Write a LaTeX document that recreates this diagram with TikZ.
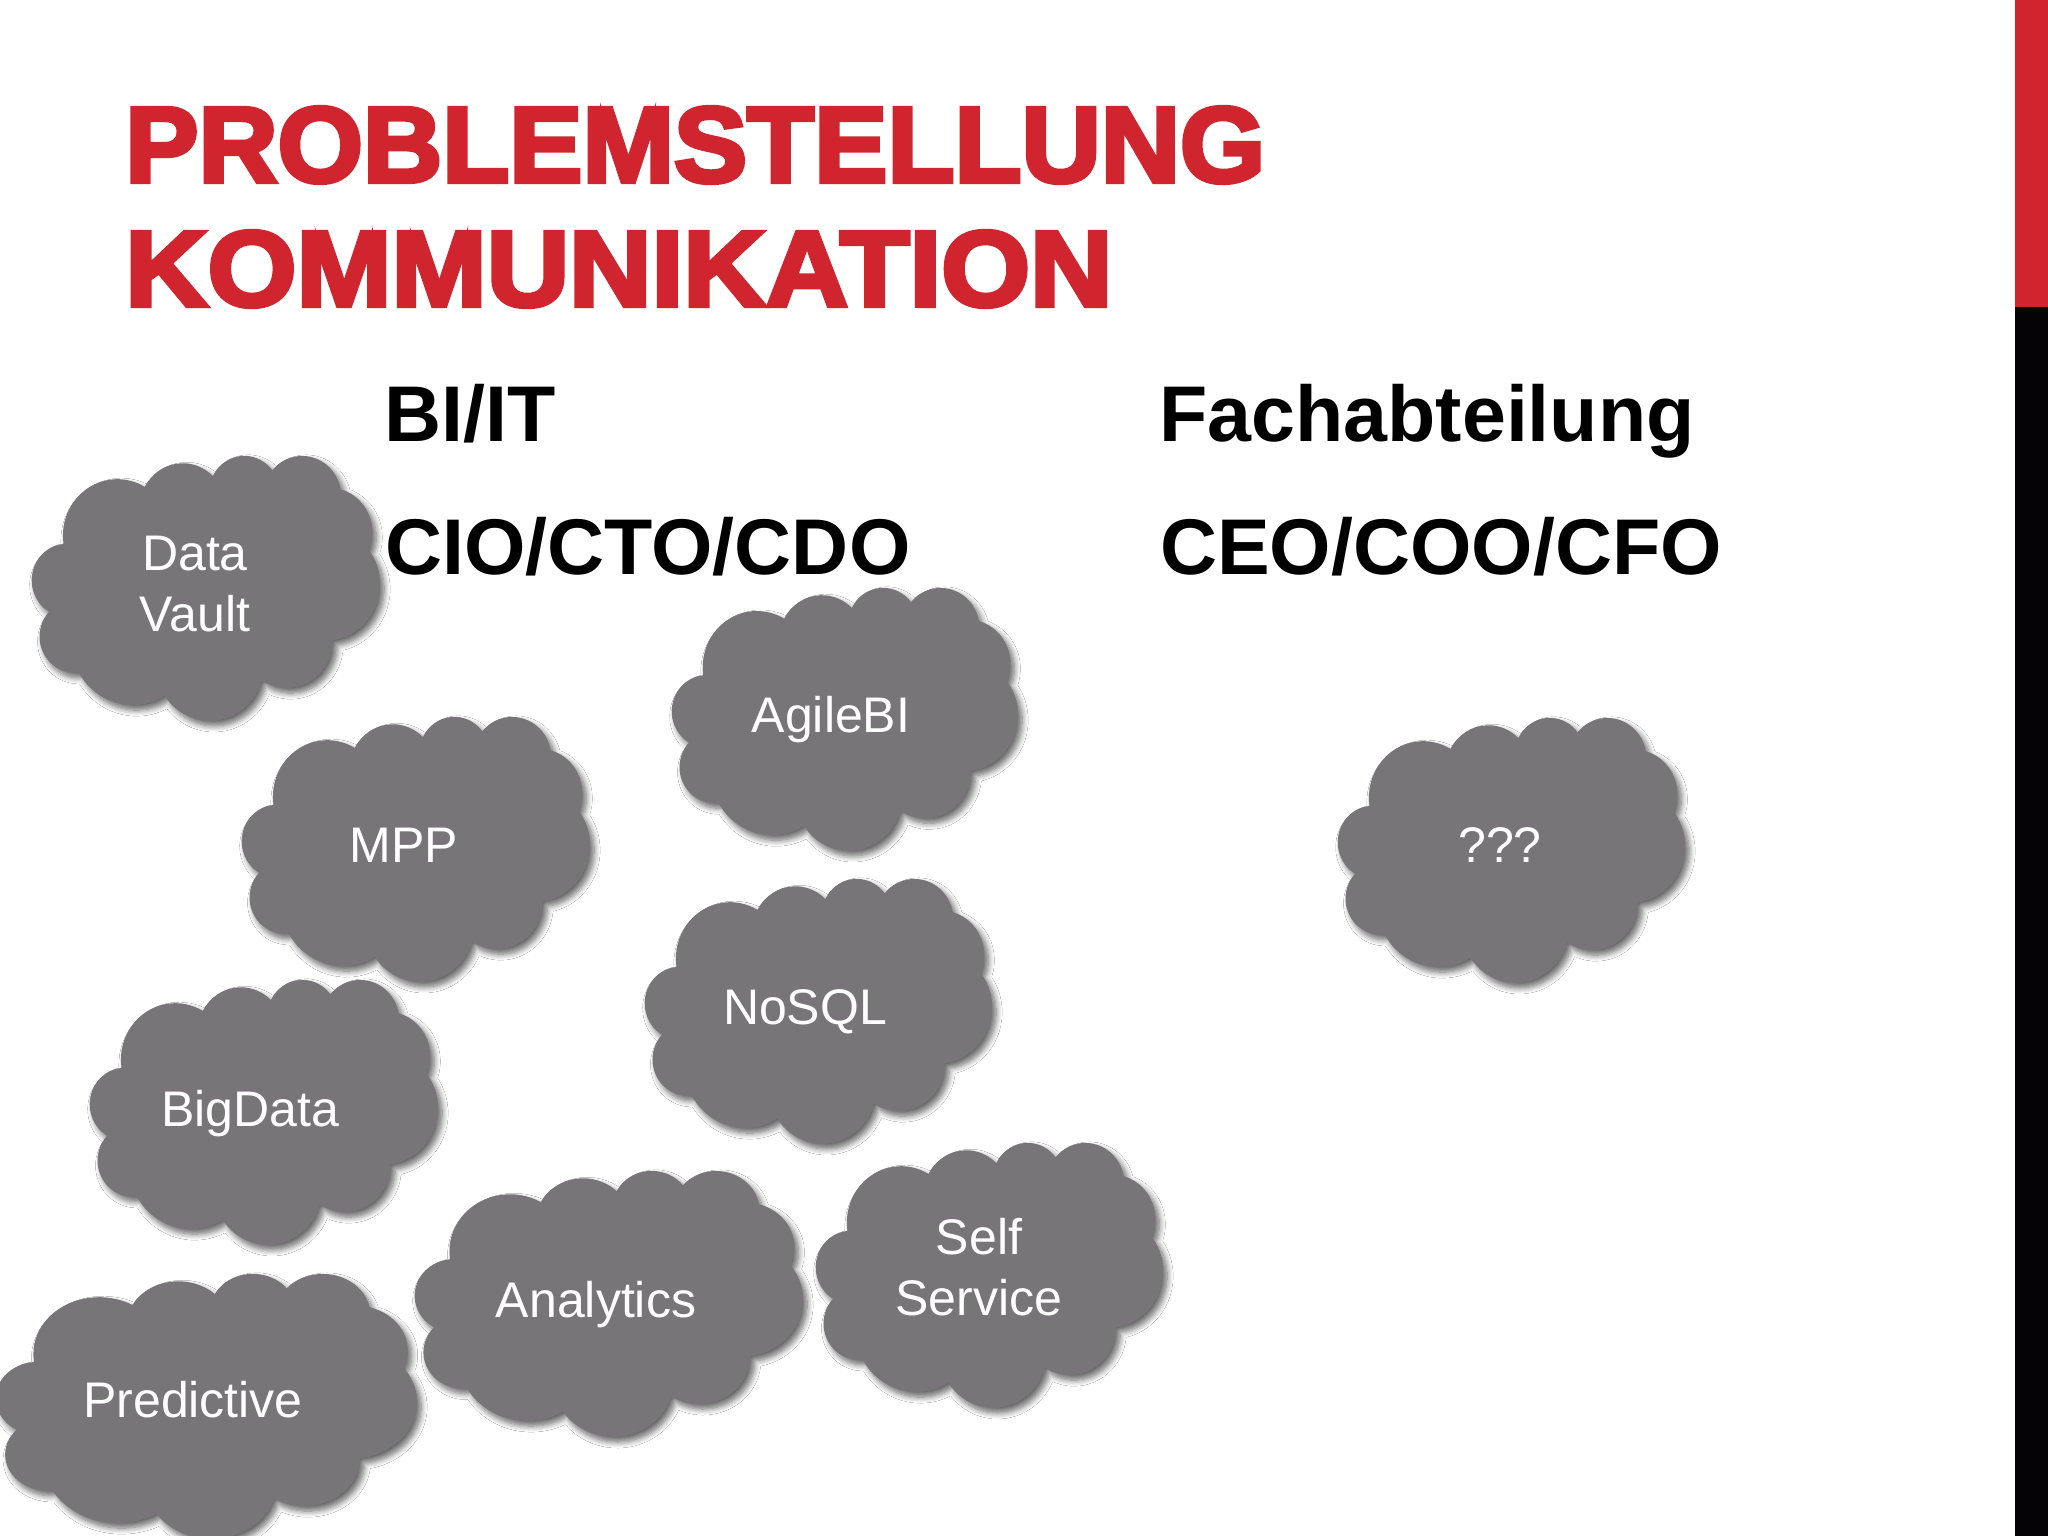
\documentclass[tikz,border=0pt]{standalone}
\usepackage{fontspec}
\setmainfont{Liberation Sans}
\newfontfamily\titlefont[FakeBold=4]{Liberation Sans Bold}
\usetikzlibrary{shadows.blur}
\definecolor{slidered}{RGB}{208,37,46}
\definecolor{cloudgray}{RGB}{119,117,120}
\definecolor{barblack}{RGB}{6,3,6}
\tikzset{
  cloudstyle/.style={fill=cloudgray, blur shadow={shadow xshift=4pt, shadow yshift=-5pt, shadow blur radius=6pt, shadow blur steps=8, shadow opacity=60}},
  cloudtext/.style={text=white, inner sep=0pt, anchor=base, align=center,
    font=\fontsize{50}{61}\selectfont},
  subhead/.style={text=black, inner sep=0pt, anchor=base west,
    font=\fontsize{79}{90}\selectfont\bfseries},
  titletext/.style={text=slidered, inner sep=0pt, anchor=base west}
}
% #1 name, #2 x0, #3 y0, #4 width, #5 height
\newcommand\drawcloud[5]{%
  \pgfmathsetmacro\cwx{#4/432}%
  \pgfmathsetmacro\chy{#5/432}%
  \begin{scope}[shift={(#2,#3)}, x=\cwx pt, y=-\chy pt]
    \fill[cloudstyle] (39,143.7)
      arc[start angle=-187.75, end angle=-59.63, x radius=67.53, y radius=91.90]
      arc[start angle=-152.02, end angle=-45.46, x radius=53.33, y radius=72.67]
      arc[start angle=-153.49, end angle=-37.33, x radius=43.65, y radius=59.45]
      arc[start angle=-139.71, end angle=-10.21, x radius=48.57, y radius=65.95]
      arc[start angle=-74.77, end angle=23.21, x radius=53.33, y radius=72.73]
      arc[start angle=-37.52, end angle=81.86, x radius=67.75, y radius=92.20]
      arc[start angle=0.46, end angle=121.97, x radius=57.85, y radius=78.67]
      arc[start angle=16.84, end angle=146.23, x radius=67.52, y radius=92.15]
      arc[start angle=58.98, end angle=150.19, x radius=77.20, y radius=105.43]
      arc[start angle=-276.69, end angle=-136.89, x radius=43.60, y radius=59.18]
      arc[start angle=-239.65, end angle=-95.89, x radius=43.45, y radius=59.45]
      -- cycle;
    \coordinate (#1) at (216,216);
  \end{scope}}
\begin{document}
\begin{tikzpicture}[x=1pt, y=-1pt]
  \fill[white] (0,0) rectangle (2048,1536);
  \useasboundingbox (0,0) rectangle (2048,1536);
  % side bar
  \fill[slidered] (2015,0) rectangle (2048,307);
  \fill[barblack] (2015,307) rectangle (2048,1536);
  % title
  \node[titletext] (t1) at (125,182) {\resizebox{1140pt}{75pt}{\titlefont PROBLEMSTELLUNG}};
  \node[titletext] (t2) at (125,306) {\resizebox{987pt}{75pt}{\titlefont KOMMUNIKATION}};
  % column headings
  \node[subhead] (bi) at (384,441) {BI/IT};
  \node[subhead] (cio) at (385,574) {CIO/CTO/CDO};
  \node[subhead] (fach) at (1159,441) {Fachabteilung};
  \node[subhead] (ceo) at (1160,574) {CEO/COO/CFO};
  % clouds
  \drawcloud{cdv}{32}{455}{348}{265}
  \drawcloud{cagile}{672}{587}{346}{263}
  \drawcloud{cmpp}{242}{716}{348}{265}
  \drawcloud{cqqq}{1338}{717}{347}{265}
  \drawcloud{cnosql}{645}{878}{347}{265}
  \drawcloud{cbig}{90}{979}{348}{265}
  \drawcloud{canalytics}{415}{1170}{388}{266}
  \drawcloud{cself}{816}{1142}{347}{265}
  \drawcloud{cpred}{-4}{1273}{421}{265}
  % cloud labels
  \node[cloudtext] (ldv) at (195,631) {Data\\Vault};
  \node[cloudtext] (lagile) at (831,732) {AgileBI};
  \node[cloudtext] (lmpp) at (404,862) {MPP};
  \node[cloudtext] (lqqq) at (1500,862) {???};
  \node[cloudtext] (lnosql) at (805,1024) {NoSQL};
  \node[cloudtext] (lbig) at (250,1126) {BigData};
  \node[cloudtext] (lanalytics) at (596,1317) {Analytics};
  \node[cloudtext] (lself) at (979,1315) {Self\\Service};
  \node[cloudtext] (lpred) at (193,1417) {Predictive};
\end{tikzpicture}
\end{document}
